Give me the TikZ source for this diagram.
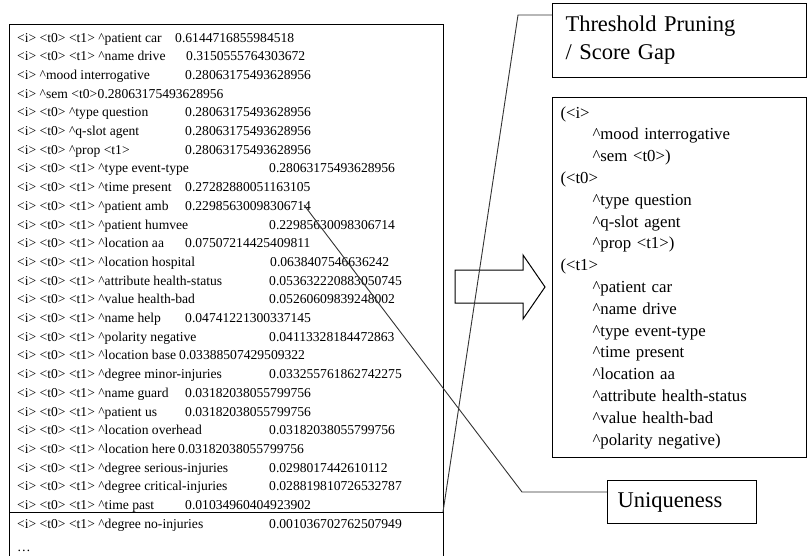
\documentclass[tikz,border=0pt]{standalone}
\usepackage{fontspec}
\setmainfont{Liberation Serif}
\newcommand{\crt}{\textasciicircum}
\newcommand{\fsind}{\hspace*{32pt}}

\begin{document}
\begin{tikzpicture}[x=1pt,y=-1pt,
        row/.style={anchor=base west,inner sep=0pt,font=\fontsize{13.6pt}{18.7pt}\selectfont},
        box/.style={draw,line width=1pt},
        tagbox/.style={box,anchor=north west,align=left,font=\fontsize{22.5pt}{28pt}\selectfont},
        callout/.style={draw=black!80,line width=0.9pt}]
        \useasboundingbox (0,0) rectangle (808,555);

        % Score list
        \draw[box] (9,556) |- (443,24) -- (443,556);
        \coordinate (gapcut) at (443,512);
        \draw[box] (9,512) -- (gapcut);

        \foreach \i/\lab/\val/\vx in {
            1/<i> <t0> <t1> \crt patient car/0.6144716855984518/175,
            2/<i> <t0> <t1> \crt name drive/0.3150555764303672/186,
            3/<i> \crt mood interrogative/0.28063175493628956/185,
            5/<i> <t0> \crt type question/0.28063175493628956/185,
            6/<i> <t0> \crt q-slot agent/0.28063175493628956/185,
            7/<i> <t0> \crt prop <t1>/0.28063175493628956/185,
            8/<i> <t0> <t1> \crt type event-type/0.28063175493628956/269,
            9/<i> <t0> <t1> \crt time present/0.27282880051163105/185,
            10/<i> <t0> <t1> \crt patient amb/0.22985630098306714/185,
            11/<i> <t0> <t1> \crt patient humvee/0.22985630098306714/269,
            12/<i> <t0> <t1> \crt location aa/0.07507214425409811/185,
            13/<i> <t0> <t1> \crt location hospital/0.0638407546636242/270,
            14/<i> <t0> <t1> \crt attribute health-status/0.053632220883050745/269,
            15/<i> <t0> <t1> \crt value health-bad/0.05260609839248002/269,
            16/<i> <t0> <t1> \crt name help/0.04741221300337145/185,
            17/<i> <t0> <t1> \crt polarity negative/0.04113328184472863/269,
            18/<i> <t0> <t1> \crt location base/0.03388507429509322/179,
            19/<i> <t0> <t1> \crt degree minor-injuries/0.033255761862742275/269,
            20/<i> <t0> <t1> \crt name guard/0.03182038055799756/185,
            21/<i> <t0> <t1> \crt patient us/0.03182038055799756/185,
            22/<i> <t0> <t1> \crt location overhead/0.03182038055799756/269,
            23/<i> <t0> <t1> \crt location here/0.03182038055799756/178,
            24/<i> <t0> <t1> \crt degree serious-injuries/0.0298017442610112/269,
            25/<i> <t0> <t1> \crt degree critical-injuries/0.028819810726532787/269,
            26/<i> <t0> <t1> \crt time past/0.01034960404923902/185,
            27/<i> <t0> <t1> \crt degree no-injuries/0.001036702762507949/269}
        {
            \node[row] (lab\i) at (17,{42+18.7*(\i-1)}) {\lab};
            \node[row] (val\i) at (\vx,{42+18.7*(\i-1)}) {\val};
        }
        \node[row] (lab4) at (17,98.1) {<i> \crt sem <t0>};
        \node[row] (val4) at (lab4.base east) {0.28063175493628956};
        \node[row] (more) at (17,551) {\dots};

        % Hollow arrow
        \draw[box,line join=miter] (455,270) -- (523,270) -- (523,255) -- (545,287)
            -- (523,319) -- (523,303) -- (455,303) -- cycle;

        % Result frame
        \node[box,anchor=north west,align=left,text width=238pt,inner xsep=8pt,
            minimum height=360pt,font=\fontsize{16.8pt}{21.8pt}\selectfont] (frame) at (552,97) {
            (<i>\\
            \fsind\crt mood interrogative\\
            \fsind\crt sem <t0>)\\
            (<t0>\\
            \fsind\crt type question\\
            \fsind\crt q-slot agent\\
            \fsind\crt prop <t1>)\\
            (<t1>\\
            \fsind\crt patient car\\
            \fsind\crt name drive\\
            \fsind\crt type event-type\\
            \fsind\crt time present\\
            \fsind\crt location aa\\
            \fsind\crt attribute health-status\\
            \fsind\crt value health-bad\\
            \fsind\crt polarity negative)};

        % Callouts
        \node[tagbox,text width=228pt,inner xsep=13pt,minimum height=74pt] (thr) at (552,3)
            {Threshold Pruning\\/ Score Gap};
        \node[tagbox,text width=129pt,inner xsep=10pt,minimum height=43pt] (uniq) at (607,480)
            {Uniqueness};
        \coordinate (gapbend) at (518,15);
        \draw[callout] (thr.west |- gapbend) -- (gapbend) -- (gapcut);
        \coordinate (dupe) at (304,205);
        \coordinate (uniqbend) at (522,492);
        \draw[callout] (uniq.west |- uniqbend) -- (uniqbend) -- (dupe);

    \end{tikzpicture}
\end{document}
